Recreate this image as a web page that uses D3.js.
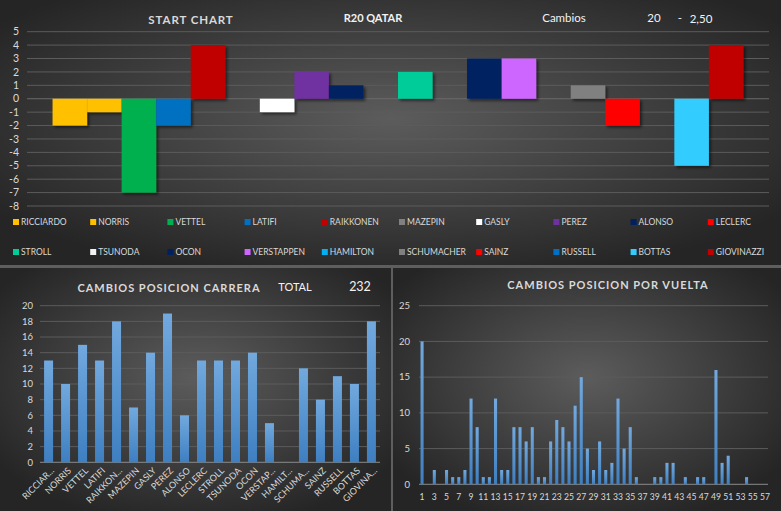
<!DOCTYPE html>
<html><head><meta charset="utf-8">
<script src="https://cdn.jsdelivr.net/npm/d3@7"></script>
<style>body{margin:0;background:#5e5e5e;} svg{display:block;} text{font-family:Lato,"Open Sans",sans-serif;}</style>
</head><body><svg id="c" width="781" height="511"></svg>
<script>
const drivers = ["RICCIARDO","NORRIS","VETTEL","LATIFI","RAIKKONEN","MAZEPIN","GASLY","PEREZ","ALONSO","LECLERC","STROLL","TSUNODA","OCON","VERSTAPPEN","HAMILTON","SCHUMACHER","SAINZ","RUSSELL","BOTTAS","GIOVINAZZI"];
const driverColors = ["#FFC000","#FFC000","#00B050","#0070C0","#C00000","#808080","#FFFFFF","#7030A0","#002060","#FF0000","#00CC99","#F2F2F2","#002060","#CC66FF","#00B0F0","#808080","#FF0000","#0070C0","#33CCFF","#C00000"];
const startChange = [-2,-1,-7,-2,4,0,-1,2,1,0,2,0,3,3,0,1,-2,0,-5,4];
const startTicks = [5,4,3,2,1,0,-1,-2,-3,-4,-5,-6,-7,-8];
const raceChanges = [13,10,15,13,18,7,14,19,6,13,13,13,14,5,0,12,8,11,10,18];
const raceLabels = ["RICCIAR...","NORRIS","VETTEL","LATIFI","RAIKKON...","MAZEPIN","GASLY","PEREZ","ALONSO","LECLERC","STROLL","TSUNODA","OCON","VERSTAP...","HAMILT...","SCHUMA...","SAINZ","RUSSELL","BOTTAS","GIOVINA..."];
const raceTicks = [0,2,4,6,8,10,12,14,16,18,20];
const laps = [1,2,3,4,5,6,7,8,9,10,11,12,13,14,15,16,17,18,19,20,21,22,23,24,25,26,27,28,29,30,31,32,33,34,35,36,37,38,39,40,41,42,43,44,45,46,47,48,49,50,51,52,53,54,55,56,57];
const lapChanges = [20,0,2,0,2,1,1,2,12,8,1,1,12,2,2,8,8,6,8,1,1,6,9,8,6,11,15,5,2,6,2,3,12,5,8,1,0,0,1,1,3,3,0,1,0,1,1,0,16,3,4,0,0,1,0,0,0];
const lapTicks = [0,5,10,15,20,25];
const headerTexts = {title:"START CHART", race:"R20 QATAR", label:"Cambios", count:"20", dash:"-", avg:"2,50"};
const totalLabel = "TOTAL", totalValue = "232";

const svg = d3.select("#c");
const defs = svg.append("defs");
function radial(id){
  const g = defs.append("radialGradient").attr("id",id).attr("cx","50%").attr("cy","45%").attr("r","62%");
  g.append("stop").attr("offset","0%").attr("stop-color","#5c5c5c");
  g.append("stop").attr("offset","100%").attr("stop-color","#252525");
}
radial("bgTop"); radial("bgL"); radial("bgR");
const bg = defs.append("linearGradient").attr("id","barGrad").attr("x1",0).attr("y1",0).attr("x2",0).attr("y2",1);
bg.append("stop").attr("offset","0%").attr("stop-color","#72a9de");
bg.append("stop").attr("offset","100%").attr("stop-color","#3e7fc1");
const sh = defs.append("filter").attr("id","shadow").attr("x","-20%").attr("y","-20%").attr("width","150%").attr("height","150%");
sh.append("feDropShadow").attr("dx",2).attr("dy",2).attr("stdDeviation",1.5).attr("flood-color","#000").attr("flood-opacity",0.55);

// panels
svg.append("rect").attr("x",0).attr("y",0).attr("width",781).attr("height",265).attr("fill","url(#bgTop)");
svg.append("rect").attr("x",0).attr("y",268).attr("width",391).attr("height",243).attr("fill","url(#bgL)");
svg.append("rect").attr("x",393).attr("y",268).attr("width",388).attr("height",243).attr("fill","url(#bgR)");

const txt = "#d9d9d9";
const gridC = "#5c5c5c";

// ---------- TOP CHART ----------
const yT = d3.scaleLinear().domain([-8,5]).range([206,31.7]);
const xT = d3.scaleBand().domain(drivers).range([27,769]).paddingInner(0).paddingOuter(0.74);
const gTop = svg.append("g");
gTop.append("g").selectAll("line").data(startTicks).join("line")
  .attr("x1",27).attr("x2",769).attr("y1",d=>yT(d)).attr("y2",d=>yT(d))
  .attr("stroke",d=>d===0?"#6a6a6a":gridC).attr("stroke-width",1);
gTop.append("g").selectAll("text").data(startTicks).join("text")
  .attr("x",19).attr("y",d=>yT(d)).attr("dy","0.35em").attr("text-anchor","end")
  .attr("fill",txt).attr("font-size",10.5).text(d=>d);
gTop.append("g").selectAll("rect").data(drivers.map((d,i)=>({d,v:startChange[i],c:driverColors[i]})).filter(o=>o.v!==0)).join("rect")
  .attr("x",o=>xT(o.d)).attr("width",xT.bandwidth())
  .attr("y",o=>yT(Math.max(0,o.v))).attr("height",o=>Math.abs(yT(o.v)-yT(0)))
  .attr("fill",o=>o.c).attr("filter","url(#shadow)");
gTop.append("text").attr("x",191).attr("y",20).attr("dy","0.35em").attr("text-anchor","middle")
  .attr("fill",txt).attr("font-size",11.5).attr("font-weight","bold").attr("letter-spacing",0.9).text(headerTexts.title);
gTop.append("text").attr("x",373).attr("y",18).attr("dy","0.35em").attr("text-anchor","middle")
  .attr("fill","#f2f2f2").attr("font-size",11).attr("font-weight","bold").text(headerTexts.race);
gTop.append("text").attr("x",564).attr("y",18).attr("dy","0.35em").attr("text-anchor","middle")
  .attr("fill","#f2f2f2").attr("font-size",11.5).text(headerTexts.label);
gTop.append("text").attr("x",654).attr("y",18).attr("dy","0.35em").attr("text-anchor","middle")
  .attr("fill","#f2f2f2").attr("font-size",11.5).text(headerTexts.count);
gTop.append("text").attr("x",680).attr("y",18).attr("dy","0.35em").attr("text-anchor","middle")
  .attr("fill","#f2f2f2").attr("font-size",11.5).text(headerTexts.dash);
gTop.append("text").attr("x",701).attr("y",19).attr("dy","0.35em").attr("text-anchor","middle")
  .attr("fill","#f2f2f2").attr("font-size",11.5).text(headerTexts.avg);

// legend
const leg = gTop.append("g");
drivers.forEach((d,i)=>{
  const col = i%10, row = Math.floor(i/10);
  const lx = 13 + col*77.2, ly = 222 + row*30;
  leg.append("rect").attr("x",lx).attr("y",ly-3).attr("width",6).attr("height",6).attr("fill",driverColors[i]);
  leg.append("text").attr("x",lx+8).attr("y",ly).attr("dy","0.35em").attr("fill",txt).attr("font-size",8.5).text(d);
});

// ---------- BOTTOM LEFT ----------
const yL = d3.scaleLinear().domain([0,20]).range([462.3,305.7]);
const xL = d3.scaleBand().domain(drivers).range([40,380]).paddingInner(0.47).paddingOuter(0.24);
const gl = svg.append("g");
gl.append("g").selectAll("line").data(raceTicks).join("line")
  .attr("x1",40).attr("x2",380).attr("y1",d=>yL(d)).attr("y2",d=>yL(d))
  .attr("stroke",d=>d===0?"#8a8a8a":gridC);
gl.append("g").selectAll("text").data(raceTicks).join("text")
  .attr("x",33).attr("y",d=>yL(d)).attr("dy","0.35em").attr("text-anchor","end")
  .attr("fill",txt).attr("font-size",9.5).text(d=>d);
gl.append("g").selectAll("rect").data(drivers.map((d,i)=>({d,v:raceChanges[i]}))).join("rect")
  .attr("x",o=>xL(o.d)).attr("width",xL.bandwidth())
  .attr("y",o=>yL(o.v)).attr("height",o=>yL(0)-yL(o.v)).attr("fill","url(#barGrad)");
gl.append("g").selectAll("text").data(drivers.map((d,i)=>({d,l:raceLabels[i]}))).join("text")
  .attr("transform",o=>`translate(${xL(o.d)+xL.bandwidth()/2+4},${469}) rotate(-45)`)
  .attr("text-anchor","end").attr("dy","0.35em").attr("fill",txt).attr("font-size",9).text(o=>o.l);
gl.append("text").attr("x",169).attr("y",288).attr("dy","0.35em").attr("text-anchor","middle")
  .attr("fill",txt).attr("font-size",11).attr("font-weight","bold").attr("letter-spacing",1).text("CAMBIOS POSICION CARRERA");
gl.append("text").attr("x",295).attr("y",287).attr("dy","0.35em").attr("text-anchor","middle")
  .attr("fill","#f2f2f2").attr("font-size",11).text(totalLabel);
gl.append("text").attr("x",360).attr("y",287).attr("dy","0.35em").attr("text-anchor","middle")
  .attr("fill","#f2f2f2").attr("font-size",12.5).text(totalValue);

// ---------- BOTTOM RIGHT ----------
const yR = d3.scaleLinear().domain([0,25]).range([484.3,305.7]);
const xR = d3.scaleBand().domain(laps).range([419,768]).paddingInner(0.5).paddingOuter(0.25);
const gr = svg.append("g");
gr.append("g").selectAll("line").data(lapTicks).join("line")
  .attr("x1",419).attr("x2",768).attr("y1",d=>yR(d)).attr("y2",d=>yR(d))
  .attr("stroke",d=>d===0?"#8a8a8a":gridC);
gr.append("g").selectAll("text").data(lapTicks).join("text")
  .attr("x",410).attr("y",d=>yR(d)).attr("dy","0.35em").attr("text-anchor","end")
  .attr("fill",txt).attr("font-size",9.5).text(d=>d);
gr.append("g").selectAll("rect").data(laps.map((l,i)=>({l,v:lapChanges[i]})).filter(o=>o.v>0)).join("rect")
  .attr("x",o=>xR(o.l)).attr("width",xR.bandwidth())
  .attr("y",o=>yR(o.v)).attr("height",o=>yR(0)-yR(o.v)).attr("fill","url(#barGrad)");
gr.append("g").selectAll("text").data(laps.filter(l=>l%2===1)).join("text")
  .attr("x",l=>xR(l)+xR.bandwidth()/2).attr("y",497).attr("dy","0.35em").attr("text-anchor","middle")
  .attr("fill",txt).attr("font-size",8.6).text(l=>l);
gr.append("text").attr("x",608).attr("y",285).attr("dy","0.35em").attr("text-anchor","middle")
  .attr("fill",txt).attr("font-size",11).attr("font-weight","bold").attr("letter-spacing",1).text("CAMBIOS POSICION POR VUELTA");
</script></body></html>
